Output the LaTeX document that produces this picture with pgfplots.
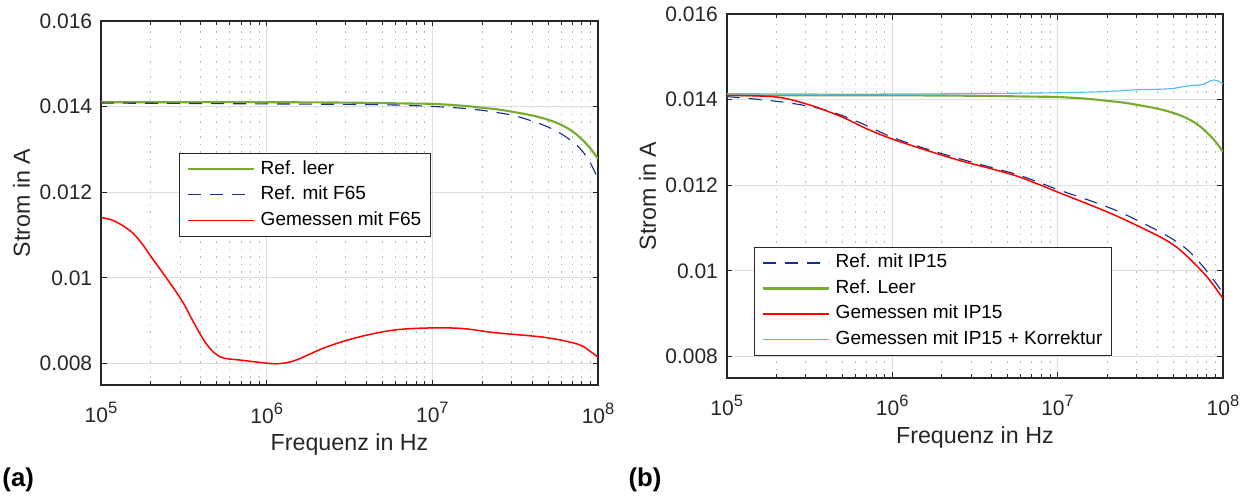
\documentclass[border=0pt]{standalone}
\usepackage{fontspec}
\setmainfont{Liberation Sans}
\usepackage{pgfplots}
\usepackage{pgfplotstable}
\pgfplotsset{compat=1.18}

\definecolor{cgreen}{RGB}{119,172,48}
\definecolor{cblue}{RGB}{25,45,140}
\definecolor{cred}{RGB}{255,0,0}
\definecolor{ccyan}{RGB}{77,190,238}
\definecolor{caxis}{RGB}{38,38,38}
\definecolor{cgrid}{RGB}{222,222,222}
\definecolor{cgridm}{RGB}{185,185,185}

\newcommand{\pw}[1]{10\raisebox{3.6pt}{\fontsize{6.6}{7}\selectfont #1}}

% Ref. leer / Ref. Leer (same in both panels)
\pgfplotstableread{
f I
1e5 0.01410
3e5 0.01410
1e6 0.01410
3e6 0.01409
7e6 0.01407
1e7 0.01406
1.5e7 0.01402
2e7 0.01397
2.5e7 0.01393
3e7 0.01388
4e7 0.01379
5e7 0.01369
6e7 0.01357
7e7 0.01342
8e7 0.01323
9e7 0.01302
1e8 0.01278
}\refleer

\pgfplotstableread{
f I
1e5 0.01408
1e6 0.01406
5e6 0.01404
1e7 0.01400
1.5e7 0.01396
2e7 0.01391
3e7 0.01380
4e7 0.01366
5e7 0.01352
6e7 0.01336
7e7 0.01318
8e7 0.01297
9e7 0.01268
1e8 0.01230
}\refFsf

\pgfplotstableread{
f I
1e5 0.01141
1.2e5 0.01133
1.5e5 0.01110
1.75e5 0.01082
2e5 0.01050
2.5e5 0.00998
3.1e5 0.00945
3.6e5 0.00898
4.2e5 0.00853
4.8e5 0.00826
5.5e5 0.00813
7e5 0.00808
1e6 0.00801
1.2e6 0.00800
1.5e6 0.00808
2.3e6 0.00839
3.6e6 0.00862
5.8e6 0.00878
9.3e6 0.00883
1.5e7 0.00882
2.4e7 0.00872
4.8e7 0.00861
7.6e7 0.00845
9e7 0.00828
1e8 0.00815
}\gemFsf

\pgfplotstableread{
f I
1e5 0.01407
1.5e5 0.01401
2.5e5 0.01391
4e5 0.01375
6.3e5 0.01347
1e6 0.01312
1.6e6 0.01285
2.6e6 0.01261
4.1e6 0.01240
6e6 0.01222
1e7 0.01190
2.1e7 0.01146
3.8e7 0.01099
5e7 0.01073
6.1e7 0.01049
7e7 0.01025
8e7 0.00999
9e7 0.00973
1e8 0.00948
}\refIP

\pgfplotstableread{
f I
1e5 0.01410
2e5 0.01406
3.2e5 0.01387
5e5 0.01359
7e5 0.01332
1e6 0.01308
1.6e6 0.01282
2.6e6 0.01257
4.1e6 0.01237
6e6 0.01218
1e7 0.01184
2.1e7 0.01134
3.8e7 0.01087
5e7 0.01061
6.1e7 0.01033
7e7 0.01010
8e7 0.00986
9e7 0.00960
1e8 0.00935
}\gemIP

\pgfplotstableread{
f I
1e5 0.01414
3e5 0.01413
1e6 0.01413
3e6 0.01414
1e7 0.01416
2e7 0.01419
3e7 0.01423
4e7 0.01424
5e7 0.01426
5.7e7 0.01430
6.5e7 0.01433
7.5e7 0.01435
8.2e7 0.01442
8.8e7 0.01446
9.3e7 0.01444
1e8 0.01437
}\korr

\pgfplotsset{
  legend image code/.code={\draw[#1] (0pt,0pt) -- (26.4pt,0pt);},
  matfig/.style={
    scale only axis,
    xmin=1e5, xmax=1e8, ymin=0.0075, ymax=0.016,
    xtick={1e5,1e6,1e7,1e8},
    xticklabels={\pw{5},\pw{6},\pw{7},\pw{8}},
    ytick={0.008,0.01,0.012,0.014,0.016},
    yticklabels={0.008,0.01,0.012,0.014,0.016},
    scaled y ticks=false,
    tick align=inside,
    major tick length=2.2pt, minor tick length=1.6pt,
    tick style={color=caxis, line width=0.4pt},
    axis line style={caxis, line width=0.6pt},
    xmajorgrids, ymajorgrids, xminorgrids,
    major grid style={cgrid, line width=0.4pt},
    minor grid style={cgridm, line width=0.4pt, dash pattern=on 0.6pt off 2.4pt},
    tick label style={font=\fontsize{8.4}{10}\selectfont, text=caxis},
    label style={font=\fontsize{9.3}{11}\selectfont, text=caxis},
    xticklabel style={yshift=-3.5pt},
    xlabel style={at={(axis description cs:0.5,-0.181)}, anchor=base},
    ylabel style={at={(axis description cs:-0.143,0.5)}, anchor=base},
    xlabel={Frequenz in Hz},
    ylabel={Strom in A},
    legend cell align=left,
    legend style={draw=caxis, line width=0.45pt, fill=white,
      font=\fontsize{7.6}{9}\selectfont,
      inner xsep=2.8pt, inner ysep=1.2pt, row sep=0pt, column sep=1.6pt,
      nodes={inner xsep=0.8pt, inner ysep=1.5pt, text height=5.6pt, text depth=1.6pt}},
  },
  gline/.style={color=cgreen, line width=0.85pt, smooth, tension=0.6},
  bline/.style={color=cblue, line width=0.45pt, dash pattern=on 5.2pt off 3.6pt, smooth, tension=0.6},
  rline/.style={color=cred, line width=0.6pt, smooth, tension=0.55},
  cline/.style={color=ccyan, line width=0.45pt, smooth, tension=0.5},
}

\begin{document}
\begin{tikzpicture}
\path[use as bounding box] (0pt,0pt) rectangle (498.8pt,-198.8pt);

\begin{semilogxaxis}[matfig, at={(40.4pt,-154pt)}, anchor=south west,
  width=198.8pt, height=145.7pt,
  legend style={at={(0.157,0.6368)}, anchor=north west}]
\addlegendimage{cgreen, line width=0.85pt}
\addlegendentry{Ref. leer}
\addlegendimage{cblue, line width=0.45pt, dash pattern=on 5.2pt off 3.6pt}
\addlegendentry{Ref. mit F65}
\addlegendimage{cred, line width=0.65pt}
\addlegendentry{Gemessen mit F65}
\addplot[gline, forget plot] table[x=f, y=I] {\refleer};
\addplot[bline, forget plot] table[x=f, y=I] {\refFsf};
\addplot[rline, forget plot] table[x=f, y=I] {\gemFsf};
\end{semilogxaxis}

\begin{semilogxaxis}[matfig, at={(290.7pt,-151.1pt)}, anchor=south west,
  width=198.5pt, height=145.5pt,
  legend style={at={(0.055,0.3605)}, anchor=north west}]
\addlegendimage{cblue, line width=0.45pt, dash pattern=on 5.2pt off 3.6pt}
\addlegendentry{Ref. mit IP15}
\addlegendimage{cgreen, line width=0.85pt}
\addlegendentry{Ref. Leer}
\addlegendimage{cred, line width=0.75pt}
\addlegendentry{Gemessen mit IP15}
\addlegendimage{ccyan, line width=0.45pt}
\addlegendentry{Gemessen mit IP15 + Korrektur}
\addplot[bline, forget plot] table[x=f, y=I] {\refIP};
\addplot[gline, forget plot] table[x=f, y=I] {\refleer};
\addplot[rline, forget plot] table[x=f, y=I] {\gemIP};
\addplot[cline, forget plot] table[x=f, y=I] {\korr};
\end{semilogxaxis}

\node[anchor=base west, inner sep=0pt, font=\bfseries\fontsize{10.3}{12}\selectfont] at (0.8pt,-194.6pt) {(a)};
\node[anchor=base west, inner sep=0pt, font=\bfseries\fontsize{10.3}{12}\selectfont] at (251.2pt,-194.6pt) {(b)};
\end{tikzpicture}
\end{document}
